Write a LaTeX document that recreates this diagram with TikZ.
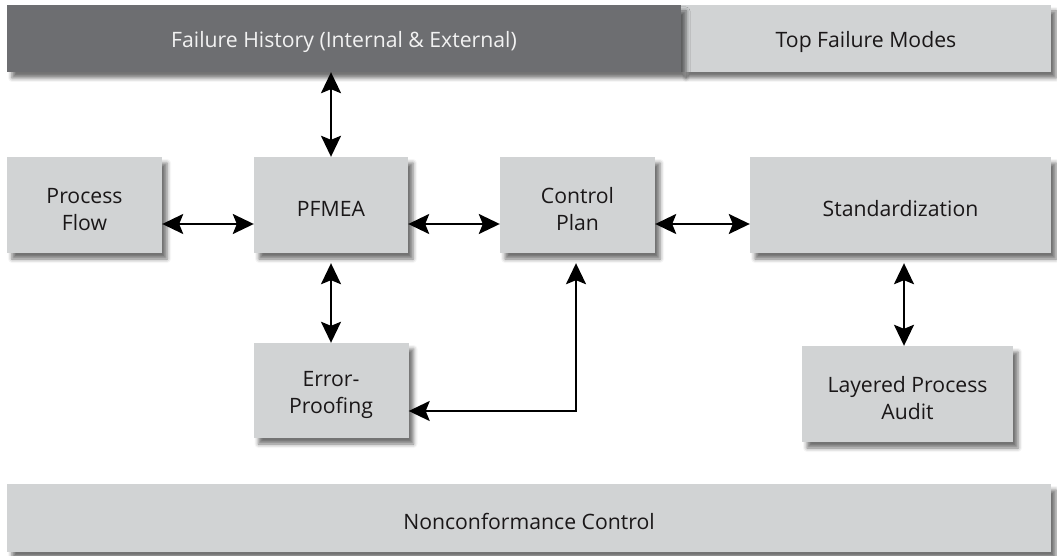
\documentclass[tikz,border=0pt]{standalone}
\usepackage{fontspec}
\setmainfont{Open Sans}
\usetikzlibrary{arrows.meta,shadows.blur}
\definecolor{boxgray}{HTML}{D1D3D4}
\definecolor{bardark}{HTML}{6D6E71}
\definecolor{ink}{HTML}{1A1718}
\definecolor{barink}{HTML}{F2F2F2}

\begin{document}
\begin{tikzpicture}[x=1pt,y=-1pt,
  box/.style={fill=boxgray, draw=none, text=ink, align=center,
    font=\fontsize{21.2}{27}\selectfont, inner sep=0pt,
    blur shadow={shadow xshift=5pt, shadow yshift=-6pt,
      shadow blur radius=4pt, shadow opacity=55}},
  % labels sit a few points below the box centre
  oneline/.style={text height=24pt},
  twoline/.style={text height=51pt},
  darkbox/.style={box, fill=bardark, text=barink},
  link/.style={line width=2pt, draw=black,
    {Stealth[length=21pt,width=20pt,inset=4pt]}-{Stealth[length=21pt,width=20pt,inset=4pt]}}
]
\useasboundingbox (0,0) rectangle (1057,556);

% top band: failure sources
\node[box, oneline, minimum width=370pt, minimum height=67pt] (tfm) at (866,38.5) {Top Failure Modes};
\node[darkbox, oneline, minimum width=674pt, minimum height=67pt] (fh) at (344,38.5) {Failure History (Internal \& External)};

% main process row
\node[box, twoline, minimum width=155pt, minimum height=96pt] (pf) at (84.5,205) {Process\\Flow};
\node[box, oneline, minimum width=154pt, minimum height=96pt] (pfmea) at (331,205) {PFMEA};
\node[box, twoline, minimum width=155pt, minimum height=96pt] (cp) at (577.5,205) {Control\\Plan};
\node[box, oneline, minimum width=301pt, minimum height=96pt] (std) at (900.5,205) {Standardization};

% lower row
\node[box, twoline, minimum width=155pt, minimum height=95pt] (ep) at (331,390.5) {Error-\\Proofing};
\node[box, twoline, minimum width=211pt, minimum height=96pt] (lpa) at (907.5,394) {Layered Process\\Audit};

% bottom band
\node[box, oneline, minimum width=1044pt, minimum height=68pt] (nc) at (529,518) {Nonconformance Control};

% connectors
\draw[link] (pfmea.north |- fh.south) -- (pfmea.north);
\draw[link] ([yshift=-19pt]pf.east) -- ([yshift=-19pt]pfmea.west);
\draw[link] ([yshift=-19pt]pfmea.east) -- ([yshift=-19pt]cp.west);
\draw[link] ([yshift=-19pt]cp.east) -- ([yshift=-19pt]std.west);
\draw[link, shorten <=10pt] (pfmea.south) -- (ep.north);
\draw[link, shorten <=10pt] ([xshift=-1.5pt]cp.south) |- ([yshift=-20.5pt]ep.east);
\draw[link, shorten <=10pt] ([xshift=3.5pt]std.south) -- ([xshift=-3.5pt]lpa.north);
\end{tikzpicture}
\end{document}
